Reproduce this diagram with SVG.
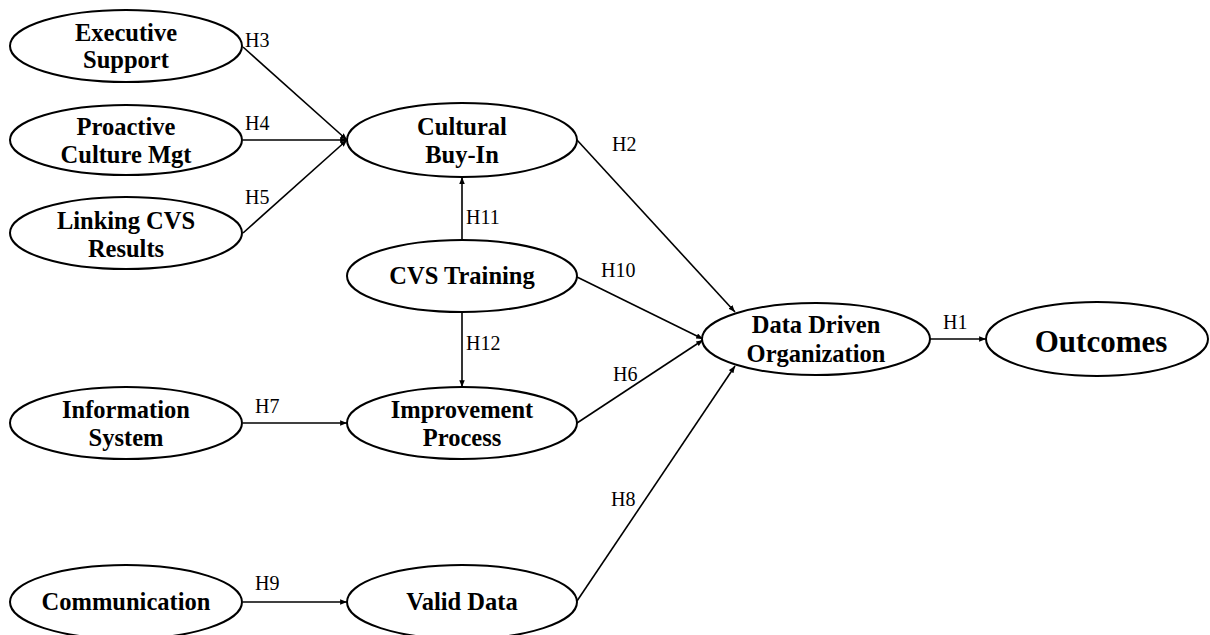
<svg xmlns="http://www.w3.org/2000/svg" width="1210" height="635" viewBox="0 0 1210 635">
<style>
.n ellipse { fill: #fff; stroke: #000; stroke-width: 2; }
.n text { font-family: "Liberation Serif", "Times New Roman", serif; font-weight: bold; font-size: 24.5px; text-anchor: middle; fill: #000; }
.c line { stroke: #000; stroke-width: 1.6; marker-end: url(#ah); }
.lbl { font-family: "Liberation Serif", "Times New Roman", serif; font-size: 20px; fill: #000; }
</style>
<defs>
<marker id="ah" viewBox="0 0 10 8" refX="10" refY="4" markerWidth="7" markerHeight="5.5" orient="auto" markerUnits="userSpaceOnUse">
<path d="M0,0 L10,4 L0,8 z" fill="#000"/>
</marker>
</defs>
<rect width="1210" height="635" fill="#fff"/>
<g id="connectors" class="c">
<line x1="243" y1="47" x2="347" y2="140"/>
<line x1="243" y1="140" x2="347" y2="140"/>
<line x1="243" y1="233" x2="347" y2="140"/>
<line x1="577" y1="140" x2="735" y2="312"/>
<line x1="462" y1="239" x2="462" y2="177"/>
<line x1="462" y1="312" x2="462" y2="387"/>
<line x1="577" y1="277" x2="703" y2="339"/>
<line x1="577" y1="423" x2="703" y2="340"/>
<line x1="577" y1="601" x2="735" y2="366"/>
<line x1="243" y1="423" x2="347" y2="423"/>
<line x1="243" y1="602" x2="347" y2="602"/>
<line x1="930" y1="339" x2="986" y2="339"/>
</g>
<g id="labels">
<text class="lbl" x="245" y="47">H3</text>
<text class="lbl" x="245" y="130">H4</text>
<text class="lbl" x="245" y="204">H5</text>
<text class="lbl" x="612" y="151">H2</text>
<text class="lbl" x="466" y="224">H11</text>
<text class="lbl" x="601" y="277">H10</text>
<text class="lbl" x="466" y="350">H12</text>
<text class="lbl" x="613" y="381">H6</text>
<text class="lbl" x="255" y="413">H7</text>
<text class="lbl" x="611" y="506">H8</text>
<text class="lbl" x="255" y="590">H9</text>
<text class="lbl" x="943" y="329">H1</text>
</g>
<g id="executive-support" class="n">
<ellipse cx="126" cy="46" rx="116" ry="36"/>
<text x="126" y="41">Executive</text>
<text x="126" y="68">Support</text>
</g>
<g id="proactive-culture-mgt" class="n">
<ellipse cx="126" cy="140" rx="116" ry="35"/>
<text x="126" y="135">Proactive</text>
<text x="126" y="163">Culture Mgt</text>
</g>
<g id="linking-cvs-results" class="n">
<ellipse cx="126" cy="233" rx="116" ry="36"/>
<text x="126" y="229">Linking CVS</text>
<text x="126" y="257">Results</text>
</g>
<g id="cultural-buy-in" class="n">
<ellipse cx="462" cy="140" rx="115" ry="37"/>
<text x="462" y="135">Cultural</text>
<text x="462" y="163">Buy-In</text>
</g>
<g id="cvs-training" class="n">
<ellipse cx="462" cy="276" rx="115" ry="36"/>
<text x="462" y="284">CVS Training</text>
</g>
<g id="information-system" class="n">
<ellipse cx="126" cy="423" rx="116" ry="36"/>
<text x="126" y="418">Information</text>
<text x="126" y="446">System</text>
</g>
<g id="improvement-process" class="n">
<ellipse cx="462" cy="423" rx="115" ry="36"/>
<text x="462" y="418">Improvement</text>
<text x="462" y="446">Process</text>
</g>
<g id="communication" class="n">
<ellipse cx="126" cy="602" rx="116" ry="37"/>
<text x="126" y="610">Communication</text>
</g>
<g id="valid-data" class="n">
<ellipse cx="462" cy="602" rx="115" ry="37"/>
<text x="462" y="610">Valid Data</text>
</g>
<g id="data-driven-organization" class="n">
<ellipse cx="816" cy="339" rx="114" ry="36"/>
<text x="816" y="333">Data Driven</text>
<text x="816" y="362">Organization</text>
</g>
<g id="outcomes" class="n">
<ellipse cx="1097" cy="339" rx="111" ry="37"/>
<text x="1101" y="352" style="font-size:31px">Outcomes</text>
</g>
</svg>
